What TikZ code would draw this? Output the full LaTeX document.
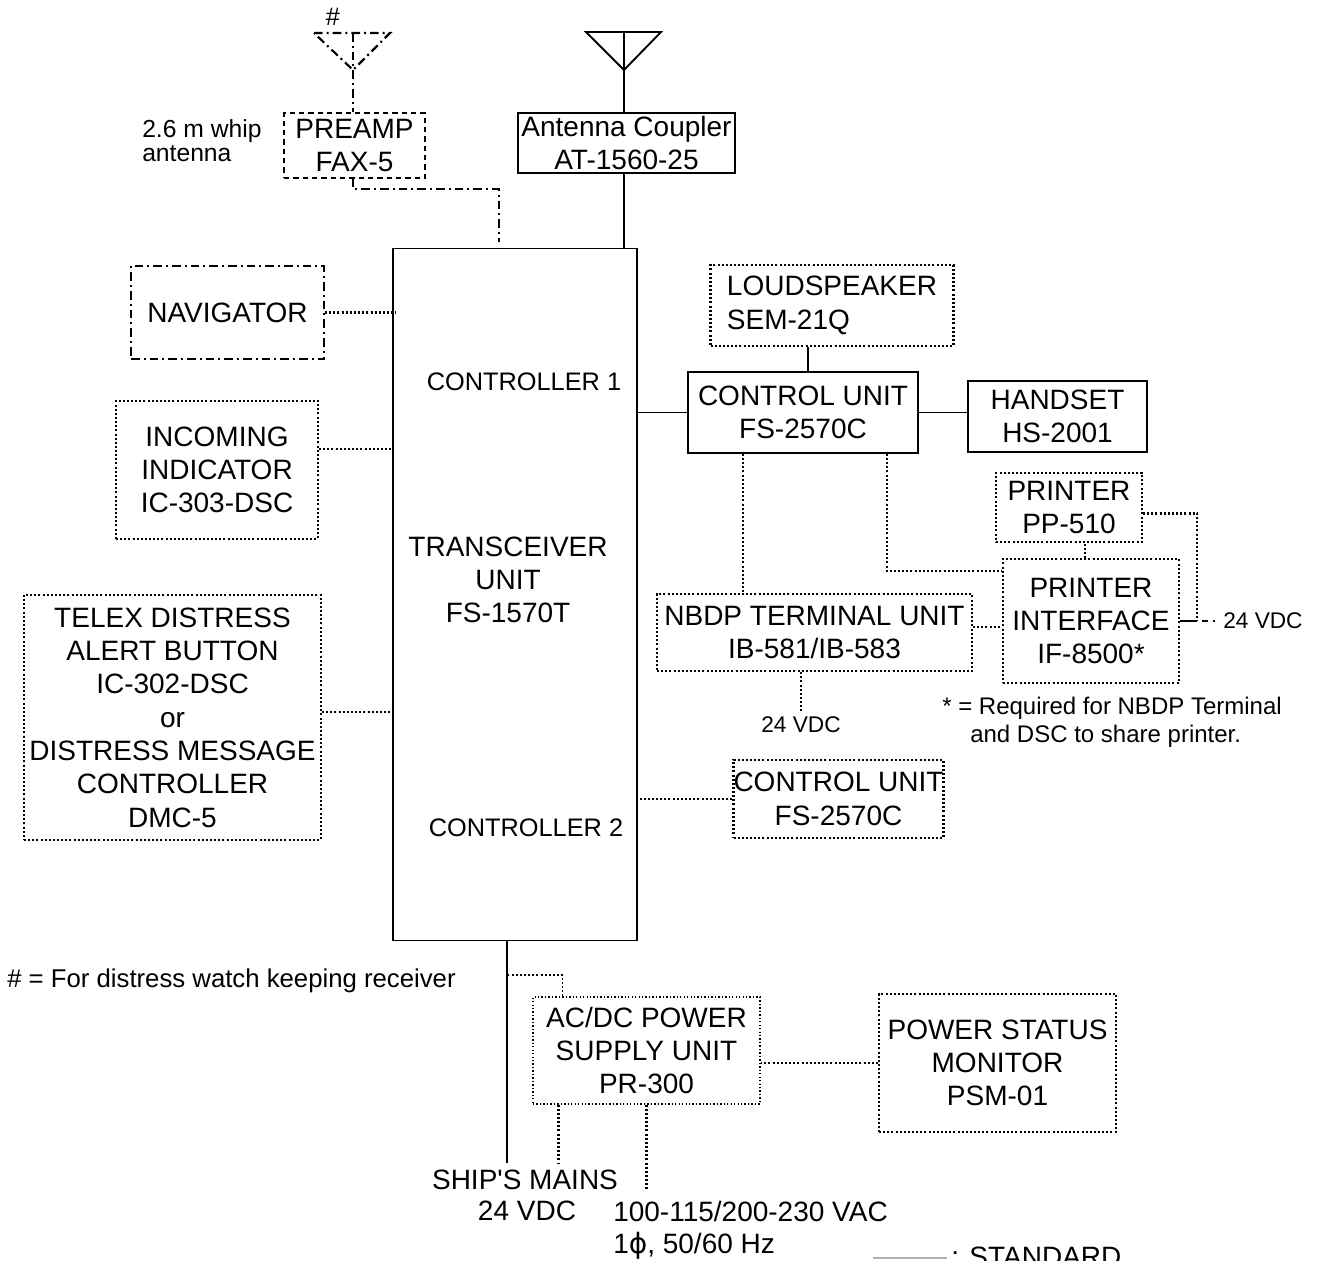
\documentclass[tikz,border=0pt]{standalone}
\usepackage{fontspec}
\setmainfont{Liberation Sans}
\newfontfamily\djv{DejaVu Sans}
\newcommand\fmain{\fontsize{21pt}{25pt}\selectfont}
\newcommand\fmid{\fontsize{19pt}{23pt}\selectfont}
\newcommand\fnote{\fontsize{18pt}{21pt}\selectfont}
\newcommand\fsmall{\fontsize{17pt}{20pt}\selectfont}
\newcommand\fwhip{\fontsize{18.5pt}{18pt}\selectfont}
\begin{document}
\begin{tikzpicture}[x=0.75pt,y=-0.75pt,
  txt/.style={font=\fmain, align=center, inner sep=0pt},
  solidbox/.style={txt, draw, line width=1.4pt},
  thinbox/.style={txt, draw, line width=0.9pt},
  dotbox/.style={txt, draw, dotline},
  dashbox/.style={txt, draw, dashline},
  dashdotbox/.style={txt, draw, dashdotline},
  solidline/.style={line width=1.4pt},
  dotline/.style={line width=1.6pt, dash pattern=on 1.5pt off 1.6pt},
  thindot/.style={line width=1pt, dash pattern=on 1pt off 1.6pt},
  dashline/.style={line width=1pt, dash pattern=on 4pt off 3pt},
  dashdotline/.style={line width=1.6pt, dash pattern=on 6.5pt off 3pt on 1.5pt off 3pt}
]
\useasboundingbox (0,0) rectangle (1317,1260);

% ---------- boxes ----------
\node[solidbox, minimum width=183pt, minimum height=519pt] (trx) at (515,594.5) {};
\node[txt, font=\fmid] (ctl1) at (524,382) {CONTROLLER 1};
\node[txt] (trxlabel) at (508,580) {TRANSCEIVER\\UNIT\\FS-1570T};
\node[txt, font=\fmid] (ctl2) at (526,828) {CONTROLLER 2};

\node[thinbox, minimum width=162.75pt, minimum height=45pt] (coupler) at (626.5,143) {Antenna Coupler\\AT-1560-25};
\node[dashbox, minimum width=105.75pt, minimum height=48.75pt] (preamp) at (354.5,145.5) {PREAMP\\FAX-5};
\node[dashdotbox, minimum width=144.75pt, minimum height=69.75pt] (nav) at (227.5,312.5) {NAVIGATOR};
\node[dotbox, minimum width=151.5pt, minimum height=103.5pt] (inc) at (217,470) {INCOMING\\INDICATOR\\IC-303-DSC};
\node[dotbox, minimum width=222.75pt, minimum height=183.75pt] (telex) at (172.5,717.5) {TELEX DISTRESS\\ALERT BUTTON\\IC-302-DSC\\or\\DISTRESS MESSAGE\\CONTROLLER\\DMC-5};

\node[dotbox, align=left, minimum width=182.25pt, minimum height=60.75pt] (loud) at (832,305.5) {LOUDSPEAKER\\SEM-21Q};
\node[solidbox, minimum width=172.5pt, minimum height=60.75pt] (cu1) at (803,412.5) {CONTROL UNIT\\FS-2570C};
\node[solidbox, minimum width=134.25pt, minimum height=53.25pt] (hs) at (1057.5,416.5) {HANDSET\\HS-2001};
\node[dotbox, minimum width=109.5pt, minimum height=51.75pt] (printer) at (1069,507.5) {PRINTER\\PP-510};
\node[dotbox, minimum width=132pt, minimum height=93pt] (pif) at (1091,621) {PRINTER\\INTERFACE\\IF-8500*};
\node[dotbox, minimum width=236.25pt, minimum height=57.75pt] (nbdp) at (814.5,632.5) {NBDP TERMINAL UNIT\\IB-581/IB-583};
\node[dotbox, minimum width=153.75pt, minimum height=58.5pt] (cu2) at (838.5,799) {CONTROL UNIT\\FS-2570C};
\node[txt, draw, thindot, minimum width=170.25pt, minimum height=80.25pt] (acdc) at (646.5,1050.5) {AC/DC POWER\\SUPPLY UNIT\\PR-300};
\node[dotbox, minimum width=177.75pt, minimum height=103.5pt] (psm) at (997.5,1063) {POWER STATUS\\MONITOR\\PSM-01};

% ---------- free texts ----------
\node[txt, font=\fmid] (hash) at (333,17) {\#};
\node[txt, font=\fwhip, align=left, anchor=west] (whip) at (142,141) {2.6 m whip\\antenna};
\node[txt, font=\fsmall, inner sep=4pt] (v24n) at (801,725) {24 VDC};
\node[txt, font=\fsmall, anchor=west] (v24r) at (1223,621) {24 VDC};
\node[txt, font=\fnote, anchor=west] (note1) at (942,708) {* = Required for NBDP Terminal};
\node[txt, font=\fnote, anchor=west] (note2) at (970,736) {and DSC to share printer.};
\node[txt, font=\fontsize{19.3pt}{23pt}\selectfont, anchor=west] (hashnote) at (7,981) {\# = For distress watch keeping receiver};
\node[txt, inner sep=5pt] (ships) at (525,1180) {SHIP\textquotesingle S MAINS};
\node[txt] (v24s) at (527,1211) {24 VDC};
\node[txt, anchor=west] (vac) at (613,1211) {100-115/200-230 VAC};
\node[txt, anchor=west] (phase) at (613,1246) {1{\djv ϕ}, 50/60 Hz};
\node[txt, anchor=base west] (legtxt) at (951,1266) {: STANDARD};

% ---------- antennas ----------
\coordinate (atl) at (586,32); \coordinate (atr) at (661,32);
\coordinate (aap) at (624,70); \coordinate (atop) at (624,32);
\draw[solidline, line join=miter] (atl) -- (atr) -- (aap) -- cycle;
\draw[solidline] (atop) -- (atop |- coupler.north);
\draw[solidline] (atop |- coupler.south) -- (atop |- trx.north);

\coordinate (wl) at (314,33); \coordinate (wr) at (390,33);
\coordinate (wap) at (353,70); \coordinate (wtop) at (353,33);
\draw[dashdotline] (wl) -- (wr) -- (wap) -- cycle;
\draw[dashdotline] (wtop) -- (wtop |- preamp.north);
\coordinate (pj) at (499,189);
\draw[dashdotline] (wtop |- preamp.south) |- (pj) -- ([yshift=4pt]pj |- trx.north);

% ---------- left connectors ----------
\draw[dotline] (nav.east) -- ([xshift=3pt]nav.east -| trx.west);
\coordinate (incE) at ([yshift=15.75pt]inc.east);
\draw[dotline] (incE) -- (incE -| trx.west);
\coordinate (telE) at ([yshift=4pt]telex.east);
\draw[dotline] (telE) -- (telE -| trx.west);

% ---------- right connectors ----------
\coordinate (cuN) at ([xshift=4pt]cu1.north);
\draw[solidline] (cuN) -- (cuN |- loud.south);
\draw[solidline] (cu1.west) -- (cu1.west -| trx.east);
\draw[solidline] (cu1.east) -- (cu1.east -| hs.west);
\coordinate (cuA) at ([xshift=-45pt]cu1.south);
\draw[dotline] (cuA) -- (cuA |- nbdp.north);
\coordinate (cuB) at ([xshift=63pt]cu1.south);
\coordinate (pifW) at ([yshift=37.5pt]pif.west);
\draw[dotline] (cuB) |- (pifW);
\coordinate (pifN) at ([xshift=-4.5pt]pif.north);
\draw[dotline] (pifN) -- (pifN |- printer.south);
\coordinate (pj24) at ([xshift=13pt]pif.east);
\draw[solidline] (pif.east) -- (pj24);
\draw[line width=1.4pt, dash pattern=on 0pt off 3.5pt on 4.5pt off 4pt on 1.4pt off 20pt] (pj24) -- (v24r.west);
\coordinate (prE) at ([yshift=-4.5pt]printer.east);
\draw[dotline] (prE) -| (pj24);
\coordinate (nbE) at ([yshift=4pt]nbdp.east);
\draw[dotline] (nbE) -- (nbE -| pif.west);
\draw[dotline] (v24n.north) -- (v24n.north |- nbdp.south);
\draw[dotline] (cu2.west) -- (cu2.west -| trx.east);

% ---------- bottom connectors ----------
\coordinate (tb) at ([xshift=-6pt]trx.south);
\draw[solidline] (tb) -- (tb |- ships.north);
\coordinate (aN) at ([xshift=-63pt]acdc.north);
\coordinate (tj) at (508,975);
\draw[dotline, line width=1.3pt] (aN) |- (tj);
\coordinate (aB1) at ([xshift=-66pt]acdc.south);
\draw[dotline] (aB1) -- (aB1 |- ships.north);
\draw[dotline] (acdc.south) -- ++(0,84);
\coordinate (psW) at (psm.west);
\draw[dotline] (psW) -- (psW -| acdc.east);

% ---------- legend ----------
\coordinate (lg1) at (873,1258); \coordinate (lg2) at (947,1258);
\draw[gray!60, line width=0.8pt] (lg1) -- (lg2);
\end{tikzpicture}
\end{document}
